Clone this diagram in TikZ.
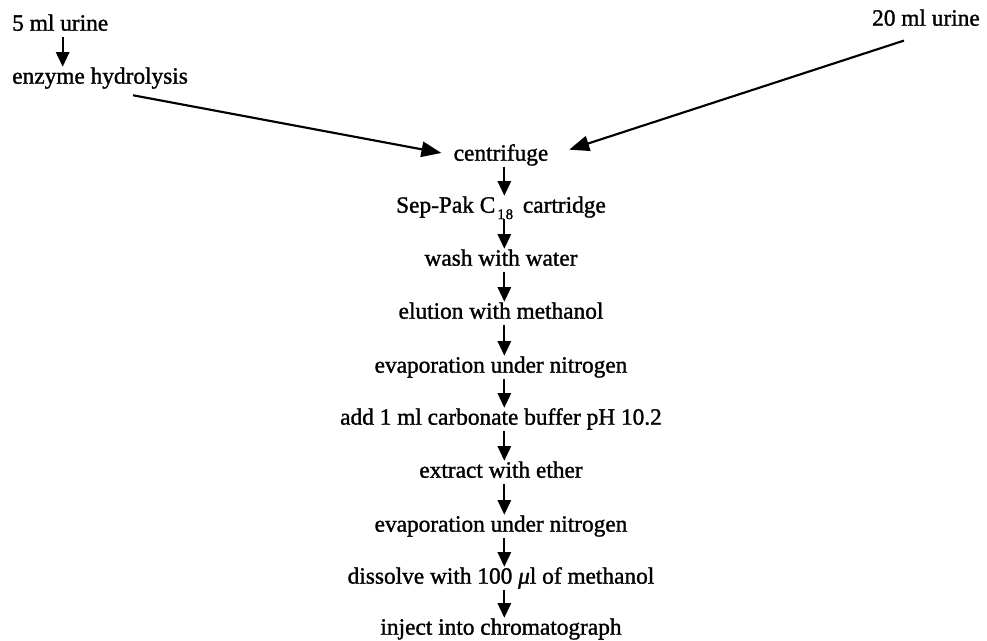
\documentclass[tikz,border=0pt]{standalone}
\usepackage{fontspec}
\setmainfont{Liberation Serif}
\newfontfamily\heavyserif{Liberation Serif}[FakeBold=1.3]
\usetikzlibrary{arrows.meta}
\begin{document}
\begin{tikzpicture}[x=0.75pt,y=-0.75pt,
  lbl/.style={inner sep=0pt,text height=12pt,text depth=3.5pt,font=\heavyserif\fontsize{17.5pt}{20pt}\selectfont},
  varr/.style={line width=1.5pt,-{Triangle[length=11pt,width=10pt]},shorten <=1pt,shorten >=0.5pt},
  darr/.style={line width=1.6pt,-{Triangle[length=15pt,width=11.5pt]}}]
\useasboundingbox (0,0) rectangle (987,641);
\node[lbl,anchor=west] (u5) at (12,25) {5 ml urine};
\node[lbl,anchor=west] (enz) at (12,78) {enzyme hydrolysis};
\node[lbl,anchor=east] (u20) at (980,20) {20 ml urine};
\node[lbl] (cen) at (501,155) {centrifuge};
\node[lbl] (sep) at (501,207) {Sep-Pak C\kern1.5pt\raisebox{-0.6ex}{\fontsize{11pt}{12pt}\selectfont 1\kern0.8pt 8}\kern3pt{} cartridge};
\node[lbl] (wash) at (501,260) {wash with water};
\node[lbl] (elu) at (501,313) {elution with methanol};
\node[lbl] (eva1) at (501,367) {evaporation under nitrogen};
\node[lbl] (add) at (501,419) {add 1 ml carbonate buffer pH 10.2};
\node[lbl] (ext) at (501,472) {extract with ether};
\node[lbl] (eva2) at (501,526) {evaporation under nitrogen};
\node[lbl] (dis) at (501,578) {dissolve with 100 {\itshape μ}l of methanol};
\node[lbl] (inj) at (501,629) {inject into chromatograph};
\draw[varr] ([xshift=38pt]u5.south west) -- ([xshift=38pt]enz.north west);
\draw[darr] ([xshift=90.75pt,yshift=-5pt]enz.south west) -- ([xshift=-9pt,yshift=1.5pt]cen.west);
\draw[darr] ([xshift=-16.5pt,yshift=-7.5pt]u20.south) -- ([xshift=15.5pt,yshift=4pt]cen.east);
\foreach \a/\b in {cen/sep,sep/wash,wash/elu,elu/eva1,eva1/add,add/ext,ext/eva2,eva2/dis,dis/inj}
  \draw[varr] ([xshift=2.5pt]\a.south) -- ([xshift=2.5pt]\b.north);
\end{tikzpicture}
\end{document}
